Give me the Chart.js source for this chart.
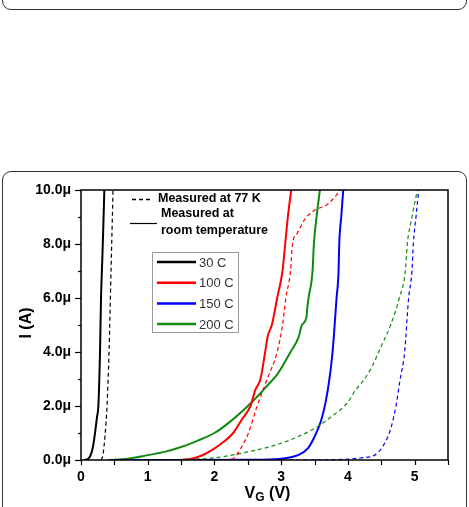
<!DOCTYPE html>
<html>
<head>
<meta charset="utf-8">
<script src="https://cdn.jsdelivr.net/npm/chart.js@4"></script>
<style>
  html, body { margin:0; padding:0; background:#fff; }
  body { width:469px; height:507px; position:relative; overflow:hidden; }
  .box { position:absolute; border:1.5px solid #333; border-radius:9px; box-sizing:border-box; }
  #topbox { left:2px; top:-30px; width:465px; height:40px; }
  #mainbox { left:2px; top:171px; width:465px; height:360px; }
  #wrap { position:absolute; left:0; top:0; width:469px; height:507px; }
</style>
</head>
<body>
<div class="box" id="topbox"></div>
<div class="box" id="mainbox"></div>
<div id="wrap"><canvas id="myChart"></canvas></div>
<script>
// gate voltage (V) and current (uA)
const series30x   = [0.05, 0.10, 0.14, 0.18, 0.21, 0.24, 0.26, 0.285, 0.30, 0.32, 0.335, 0.35];
const series30y   = [0, 0.03, 0.15, 0.5, 1.0, 1.6, 2.0, 4.0, 6.0, 7.5, 8.7, 10];
const series30kx  = [0.30, 0.33, 0.36, 0.39, 0.42, 0.45, 0.48];
const series30ky  = [0, 0.2, 0.9, 2.0, 4.0, 7.0, 10];

const series100x  = [1.5, 1.65, 1.79, 1.95, 2.1, 2.28, 2.41, 2.54, 2.61, 2.69, 2.76, 2.80, 2.86, 2.94, 3.02, 3.06, 3.10, 3.15];
const series100y  = [0, 0.05, 0.15, 0.35, 0.6, 1.0, 1.5, 2.0, 2.58, 3.0, 4.0, 4.6, 5.0, 6.0, 7.0, 8.0, 9.0, 10];
const series100kx = [2.15, 2.28, 2.41, 2.51, 2.64, 2.79, 2.94, 3.02, 3.07, 3.14, 3.17, 3.24, 3.35, 3.47, 3.71, 3.89];
const series100ky = [0, 0.05, 0.5, 1.0, 2.0, 3.0, 4.0, 5.0, 6.0, 7.0, 8.0, 8.4, 8.9, 9.2, 9.5, 10];

const series150x  = [0.5, 1.5, 2.5, 3.0, 3.25, 3.4, 3.5, 3.6, 3.67, 3.72, 3.77, 3.83, 3.86, 3.87, 3.90, 3.93];
const series150y  = [0, 0, 0.01, 0.05, 0.18, 0.43, 0.86, 1.47, 2.2, 2.95, 4.0, 6.0, 7.0, 8.0, 9.0, 10];
const series150kx = [0.5, 2.0, 3.0, 4.0, 4.2, 4.4, 4.55, 4.65, 4.72, 4.78, 4.85, 4.91, 4.96, 4.98, 5.02, 5.06];
const series150ky = [0, 0, 0, 0.03, 0.08, 0.18, 0.62, 1.23, 2.0, 2.95, 4.0, 6.0, 7.0, 8.0, 9.0, 10];

const series200x  = [0.4, 0.7, 1.0, 1.25, 1.5, 1.75, 2.0, 2.25, 2.5, 2.7, 2.79, 2.95, 3.14, 3.26, 3.31, 3.38, 3.39, 3.41, 3.47, 3.49, 3.53, 3.58];
const series200y  = [0, 0.05, 0.18, 0.3, 0.48, 0.72, 1.0, 1.45, 2.0, 2.5, 2.75, 3.2, 4.0, 4.54, 5.0, 5.3, 5.6, 6.0, 7.0, 8.0, 9.0, 10];
const series200kx = [1.3, 1.6, 2.0, 2.5, 3.0, 3.5, 3.75, 4.0, 4.11, 4.2, 4.37, 4.46, 4.64, 4.77, 4.86, 4.89, 4.96, 5.04];
const series200ky = [0, 0.02, 0.08, 0.3, 0.62, 1.17, 1.6, 2.14, 2.58, 2.84, 3.5, 4.0, 5.0, 6.0, 7.0, 8.0, 9.0, 10];

const legendNames  = ['30 C', '100 C', '150 C', '200 C'];
const legendColors = ['#000000', '#ff0000', '#0000ff', '#128a12'];

const pts = (xs, ys) => xs.map((x, i) => ({x: x, y: ys[i]}));

function line(xs, ys, color, dashed) {
  return {
    data: pts(xs, ys),
    borderColor: color,
    borderWidth: dashed ? 1.2 : 2,
    borderDash: dashed ? [4, 3] : [],
    pointRadius: 0,
    showLine: true,
    fill: false,
    cubicInterpolationMode: 'monotone'
  };
}

const datasets = [
  line(series30kx, series30ky, legendColors[0], true),
  line(series100kx, series100ky, legendColors[1], true),
  line(series150kx, series150ky, legendColors[2], true),
  line(series200kx, series200ky, legendColors[3], true),
  line(series30x, series30y, legendColors[0], false),
  line(series100x, series100y, legendColors[1], false),
  line(series150x, series150y, legendColors[2], false),
  line(series200x, series200y, legendColors[3], false),
];

// frame, tick marks, titles and the legend
const decor = {
  id: 'decor',
  afterDraw(chart) {
    const ctx = chart.ctx;
    const a = chart.chartArea;
    const xs = chart.scales.x, ys = chart.scales.y;
    ctx.save();
    ctx.strokeStyle = '#000';
    ctx.lineWidth = 1.5;
    ctx.strokeRect(a.left, a.top, a.right - a.left, a.bottom - a.top);

    ctx.lineWidth = 1.2;
    xs.ticks.forEach(t => {
      const px = Math.round(xs.getPixelForValue(t.value)) + 0.5;
      ctx.beginPath(); ctx.moveTo(px, a.bottom); ctx.lineTo(px, a.bottom + 5); ctx.stroke();
    });
    ys.ticks.forEach(t => {
      const py = Math.round(ys.getPixelForValue(t.value)) + 0.5;
      const len = t.value % 2 === 0 ? 6 : 3;
      ctx.beginPath(); ctx.moveTo(a.left, py); ctx.lineTo(a.left - len, py); ctx.stroke();
    });

    // axis titles
    ctx.fillStyle = '#000';
    ctx.textBaseline = 'middle';
    ctx.font = 'bold 16px "Liberation Sans", Arial, sans-serif';
    ctx.save();
    ctx.translate(27, (a.top + a.bottom) / 2 - 2);
    ctx.rotate(-Math.PI / 2);
    ctx.textAlign = 'center';
    ctx.fillText('I (A)', 0, 0);
    ctx.restore();

    ctx.textAlign = 'left';
    const f1 = 'bold 16px "Liberation Sans", Arial, sans-serif';
    const f2 = 'bold 12px "Liberation Sans", Arial, sans-serif';
    ctx.font = f1; const wV = ctx.measureText('V').width; const wR = ctx.measureText(' (V)').width;
    ctx.font = f2; const wG = ctx.measureText('G').width;
    let tx = (a.left + a.right) / 2 + 3 - (wV + wG + wR) / 2;
    const ty = 494;
    ctx.font = f1; ctx.fillText('V', tx, ty); tx += wV;
    ctx.font = f2; ctx.fillText('G', tx, ty + 4); tx += wG;
    ctx.font = f1; ctx.fillText(' (V)', tx, ty);

    // measurement legend
    ctx.strokeStyle = '#000';
    ctx.lineWidth = 1.5;
    ctx.setLineDash([4, 3]);
    ctx.beginPath(); ctx.moveTo(132, 199.5); ctx.lineTo(153, 199.5); ctx.stroke();
    ctx.setLineDash([]);
    ctx.lineWidth = 1.2;
    ctx.beginPath(); ctx.moveTo(130, 223.5); ctx.lineTo(157, 223.5); ctx.stroke();
    ctx.font = 'bold 12.5px "Liberation Sans", Arial, sans-serif';
    ctx.fillText('Measured at 77 K', 158, 199);
    ctx.fillText('Measured at', 161, 214);
    ctx.fillText('room temperature', 161, 231);

    // temperature legend
    ctx.fillStyle = '#fff';
    ctx.fillRect(152, 252, 87, 81);
    ctx.strokeStyle = '#999';
    ctx.lineWidth = 1;
    ctx.strokeRect(152.5, 252.5, 86, 80);
    ctx.font = '13px "Liberation Sans", Arial, sans-serif';
    legendNames.forEach((n, i) => {
      const y = 262 + i * 20.7;
      ctx.strokeStyle = legendColors[i];
      ctx.lineWidth = 2.5;
      ctx.beginPath(); ctx.moveTo(157, y); ctx.lineTo(196, y); ctx.stroke();
      ctx.fillStyle = '#333';
      ctx.fillText(n, 199, y + 1);
    });
    ctx.restore();
  }
};

const config = {
  type: 'scatter',
  data: { datasets: datasets },
  options: {
    responsive: true,
    maintainAspectRatio: false,
    animation: false,
    layout: { padding: { top: 190, right: 21, left: 0, bottom: 0 } },
    plugins: { legend: { display: false }, tooltip: { enabled: false } },
    scales: {
      x: {
        type: 'linear',
        min: 0, max: 5.5,
        afterFit: s => { s.height = 47; },
        grid: { display: false },
        border: { display: false },
        ticks: {
          stepSize: 0.5,
          padding: 1,
          maxRotation: 0,
          autoSkip: false,
          color: '#000',
          font: { family: '"Liberation Sans", Arial, sans-serif', size: 14, weight: 'bold' },
          callback: v => Number.isInteger(v) ? String(v) : ''
        }
      },
      y: {
        type: 'linear',
        min: 0, max: 10,
        afterFit: s => { s.width = 81; },
        grid: { display: false },
        border: { display: false },
        ticks: {
          stepSize: 1,
          padding: 2,
          autoSkip: false,
          color: '#000',
          font: { family: '"Liberation Sans", Arial, sans-serif', size: 14, weight: 'bold' },
          callback: v => v % 2 === 0 ? v.toFixed(1) + 'μ' : ''
        }
      }
    }
  },
  plugins: [decor]
};

const myChart = new Chart(document.getElementById('myChart'), config);
</script>
</body>
</html>
